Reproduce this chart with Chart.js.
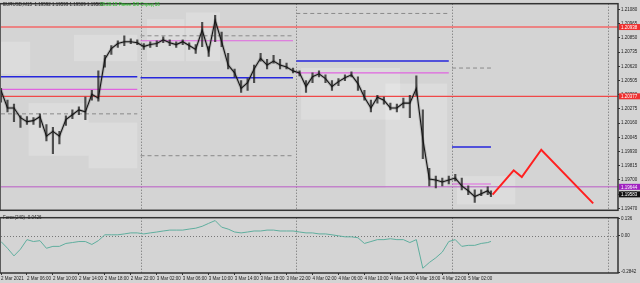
<!DOCTYPE html>
<html><head><meta charset="utf-8">
<script src="https://cdn.jsdelivr.net/npm/chart.js@4.4.0/dist/chart.umd.min.js"></script>
<style>
html,body{margin:0;padding:0;background:#d4d4d4;width:640px;height:283px;overflow:hidden}
canvas{position:absolute;left:0}
#price{top:0}
#ind{top:214px}
</style></head><body>
<canvas id="price" width="640" height="214"></canvas>
<canvas id="ind" width="640" height="69"></canvas>
<script>
// EURUSD M15, one point per hour (every 4 bars): close, high, low
const closes = [1.20425,1.20283,1.20283,1.20204,1.20172,1.20180,1.20212,1.20054,1.20093,1.20054,
  1.20188,1.20228,1.20267,1.20251,1.20393,1.20362,1.20677,1.20764,1.20804,1.20819,
  1.20819,1.20811,1.20780,1.20796,1.20804,1.20835,1.20811,1.20796,1.20819,1.20788,
  1.20756,1.20914,1.20740,1.20993,1.20819,1.20630,1.20567,1.20441,1.20488,1.20598,
  1.20685,1.20630,1.20662,1.20630,1.20614,1.20583,1.20567,1.20456,1.20535,1.20559,
  1.20520,1.20456,1.20496,1.20527,1.20551,1.20480,1.20370,1.20283,1.20370,1.20346,
  1.20283,1.20283,1.20322,1.20322,1.20441,1.20030,1.19707,1.19699,1.19683,1.19699,
  1.19715,1.19652,1.19612,1.19565,1.19588,1.19612,1.19583];
const highs = [1.20441,1.20346,1.20314,1.20220,1.20212,1.20204,1.20235,1.20149,1.20125,1.20093,
  1.20220,1.20267,1.20291,1.20370,1.20425,1.20583,1.20709,1.20788,1.20827,1.20867,
  1.20843,1.20835,1.20804,1.20819,1.20827,1.20859,1.20835,1.20819,1.20835,1.20811,
  1.20796,1.20977,1.20780,1.21032,1.20898,1.20725,1.20598,1.20504,1.20520,1.20630,
  1.20725,1.20677,1.20709,1.20677,1.20646,1.20606,1.20583,1.20504,1.20567,1.20583,
  1.20551,1.20504,1.20520,1.20551,1.20575,1.20535,1.20425,1.20346,1.20385,1.20370,
  1.20322,1.20314,1.20362,1.20385,1.20543,1.20267,1.19794,1.19731,1.19715,1.19731,
  1.19746,1.19715,1.19652,1.19620,1.19620,1.19644,1.19612];
const lows = [1.20330,1.20251,1.20172,1.20125,1.20149,1.20149,1.20125,1.20015,1.19912,1.19991,
  1.20141,1.20196,1.20228,1.20188,1.20346,1.20338,1.20614,1.20717,1.20772,1.20788,
  1.20804,1.20796,1.20756,1.20772,1.20780,1.20811,1.20788,1.20772,1.20796,1.20756,
  1.20725,1.20780,1.20701,1.20819,1.20780,1.20598,1.20535,1.20409,1.20425,1.20488,
  1.20662,1.20598,1.20646,1.20598,1.20598,1.20567,1.20543,1.20409,1.20488,1.20535,
  1.20488,1.20425,1.20464,1.20504,1.20535,1.20425,1.20346,1.20251,1.20322,1.20314,
  1.20267,1.20251,1.20283,1.20204,1.20385,1.19873,1.19652,1.19636,1.19652,1.19667,
  1.19691,1.19620,1.19581,1.19517,1.19573,1.19581,1.19565];
const force = [-0.044,-0.097,-0.157,-0.104,-0.029,-0.044,-0.037,-0.097,-0.082,-0.082,
  -0.059,-0.052,-0.044,-0.044,-0.067,-0.037,0.009,0.009,0.009,0.016,
  0.024,0.024,0.016,0.024,0.031,0.039,0.046,0.046,0.046,0.054,
  0.061,0.076,0.099,0.121,0.069,0.054,0.031,0.024,0.031,0.039,
  0.039,0.046,0.046,0.039,0.039,0.039,0.031,0.024,0.024,0.016,
  0.016,0.009,0.001,-0.007,-0.007,-0.014,-0.059,-0.044,-0.029,-0.029,
  -0.022,-0.029,-0.029,-0.052,-0.029,-0.254,-0.209,-0.172,-0.127,-0.044,
  -0.029,-0.082,-0.074,-0.074,-0.059,-0.052,-0.043];
const barsPerPoint = 4;
const lastBar = 302;

const forecastBars = [303, 316, 321, 333, 365];
const forecastPrices = [1.19581, 1.19778, 1.19723, 1.19944, 1.19510];

const sessionStart = [0, 86, 182, 278];
const sessionEnd = [84, 180, 276, 302];
const blueLevels = [1.20535, 1.20527, 1.20662, 1.19967];
const pinkLevels = [1.20433, 1.20827, 1.20567, 1.19667];
const dashLow = [1.20235, 1.19896, null, null];
const dashHigh = [null, 1.20867, 1.21048, 1.20606];

const redHigh = 1.20938, redLow = 1.20377, purpleLevel = 1.19644;
const tagValues = [1.20938, 1.20377, 1.19644, 1.19583];
const tagColors = ['#f03030', '#f03030', '#a020c0', '#111111'];

const zones = [[0,18,1.20559,1.20819],[17,54,1.19896,1.20322],[54,84,1.19794,1.20164],
  [45,84,1.20662,1.20875],[90,113,1.20662,1.21001],[114,135,1.20662,1.21056],
  [185,246,1.20188,1.20606],[237,275,1.19636,1.20480],[281,317,1.19502,1.19731]];
const daySeparators = [86, 182, 278, 374];

const priceTicks = [1.21080,1.20965,1.20850,1.20735,1.20620,1.20505,1.20390,1.20275,
  1.20160,1.20045,1.19930,1.19815,1.19700,1.19585,1.19470];
const forceTicks = [0.136, 0, -0.2842];
const forceTickText = ['0.136', '0.00', '-0.2842'];
const timeLabels = ['2 Mar 2021','2 Mar 06:00','2 Mar 10:00','2 Mar 14:00','2 Mar 18:00',
  '2 Mar 22:00','3 Mar 02:00','3 Mar 06:00','3 Mar 10:00','3 Mar 14:00','3 Mar 18:00',
  '3 Mar 22:00','4 Mar 02:00','4 Mar 06:00','4 Mar 10:00','4 Mar 14:00','4 Mar 18:00',
  '4 Mar 22:00','5 Mar 02:00'];
const barsPerLabel = 16;

const headerText = 'EURUSD,M15  1.19592 1.19593 1.19509 1.19583';
const infoText = '06:20:15 Ранее 5/8 Спред 16';
const forceText = 'Force(240) -0.0426';

const xMax = 380.3;
const FONT = '"Liberation Sans", Arial, sans-serif';

function barAt(i, n) { return i < n - 1 ? i * barsPerPoint : lastBar; }
function toPoints(vals) {
  return vals.map((v, i) => ({ x: barAt(i, vals.length), y: v }));
}
function segLine(levels) {
  const pts = [];
  levels.forEach((v, k) => {
    if (v == null) return;
    pts.push({ x: sessionStart[k], y: v }, { x: sessionEnd[k], y: v }, { x: sessionEnd[k] + 0.5, y: null });
  });
  return pts;
}
function flat(v) { return [{ x: 0, y: v }, { x: xMax, y: v }]; }

function dayLines(chart) {
  const { ctx, chartArea: a, scales: { x } } = chart;
  ctx.save();
  ctx.strokeStyle = '#6a6a6a';
  ctx.lineWidth = 1;
  ctx.setLineDash([1, 2]);
  daySeparators.forEach(b => {
    const px = Math.round(x.getPixelForValue(b)) + 0.5;
    ctx.beginPath(); ctx.moveTo(px, a.top); ctx.lineTo(px, a.bottom); ctx.stroke();
  });
  ctx.restore();
}
function frame(chart) {
  const { ctx, chartArea: a } = chart;
  ctx.save();
  ctx.strokeStyle = '#333';
  ctx.lineWidth = 1.5;
  ctx.strokeRect(a.left - 1, a.top, a.right - a.left + 1, a.bottom - a.top);
  ctx.restore();
}

const pricePlugin = {
  id: 'pricePlugin',
  beforeDatasetsDraw(chart) {
    const { ctx, scales: { x, y } } = chart;
    ctx.save();
    ctx.fillStyle = 'rgba(255,255,255,0.2)';
    zones.forEach(z => {
      const x0 = x.getPixelForValue(z[0]), x1 = x.getPixelForValue(z[1]);
      const y0 = y.getPixelForValue(z[3]), y1 = y.getPixelForValue(z[2]);
      ctx.fillRect(x0, y0, x1 - x0, y1 - y0);
    });
    ctx.restore();
    dayLines(chart);
  },
  afterDraw(chart) {
    const { ctx, chartArea: a, scales: { y } } = chart;
    frame(chart);
    ctx.save();
    ctx.font = '4.5px ' + FONT;
    ctx.textBaseline = 'middle';
    tagValues.forEach((v, i) => {
      const py = y.getPixelForValue(v);
      ctx.fillStyle = tagColors[i];
      ctx.fillRect(a.right + 1, py - 3, 640 - a.right - 1, 6);
      ctx.fillStyle = '#fff';
      ctx.fillText(v.toFixed(5), a.right + 3, py + 0.5);
    });
    ctx.fillStyle = '#222';
    ctx.fillText(headerText, 3, 5);
    ctx.fillStyle = '#22c022';
    ctx.fillText(infoText, 100, 5);
    ctx.restore();
  }
};

const indPlugin = {
  id: 'indPlugin',
  beforeDatasetsDraw(chart) {
    const { ctx, chartArea: a, scales: { y } } = chart;
    dayLines(chart);
    ctx.save();
    ctx.strokeStyle = '#777';
    ctx.setLineDash([1, 2]);
    const zy = Math.round(y.getPixelForValue(0)) + 0.5;
    ctx.beginPath(); ctx.moveTo(a.left, zy); ctx.lineTo(a.right, zy); ctx.stroke();
    ctx.restore();
  },
  afterDraw(chart) {
    const { ctx } = chart;
    frame(chart);
    ctx.save();
    ctx.font = '4.5px ' + FONT;
    ctx.fillStyle = '#222';
    ctx.textBaseline = 'middle';
    ctx.fillText(forceText, 3, 4);
    ctx.restore();
  }
};

const line = (data, color, width, extra) => Object.assign({
  type: 'line', data, borderColor: color, borderWidth: width, pointRadius: 0, tension: 0, spanGaps: false, fill: false
}, extra || {});

new Chart(document.getElementById('price'), {
  type: 'line',
  data: {
    datasets: [
      line(forecastBars.map((b, i) => ({ x: b, y: forecastPrices[i] })), '#ff2020', 2, { order: 0 }),
      line(toPoints(closes), '#151515', 1.1, { order: 1 }),
      {
        type: 'bar', order: 2,
        data: highs.map((h, i) => ({ x: barAt(i, highs.length), y: [lows[i], h] })),
        backgroundColor: 'rgba(30,30,30,0.75)', borderWidth: 0, barThickness: 1.5
      },
      line(toPoints(closes), 'rgba(90,90,90,0.3)', 3, { order: 3 }),
      line(segLine(blueLevels), '#2626dc', 1.5, { order: 4 }),
      line(segLine(pinkLevels), '#e064e0', 1.2, { order: 4 }),
      line(segLine(dashLow), '#8a8a8a', 1, { order: 5, borderDash: [4, 3] }),
      line(segLine(dashHigh), '#8a8a8a', 1, { order: 5, borderDash: [4, 3] }),
      line(flat(redHigh), 'rgba(240,110,110,0.8)', 2, { order: 6 }),
      line(flat(redLow), '#f04848', 1.2, { order: 6 }),
      line(flat(purpleLevel), 'rgba(190,110,200,0.8)', 1.5, { order: 6 })
    ]
  },
  options: {
    responsive: false,
    animation: false,
    events: [],
    layout: { padding: { top: 1, bottom: 1, left: 1, right: 0 } },
    plugins: { legend: { display: false }, tooltip: { enabled: false } },
    scales: {
      x: { type: 'linear', min: 0, max: xMax, display: false, offset: false },
      y: {
        type: 'linear', position: 'right', min: 1.19454, max: 1.21127,
        afterFit(s) { s.width = 22; },
        afterBuildTicks(s) { s.ticks = priceTicks.map(v => ({ value: v })); },
        grid: { drawOnChartArea: false, tickLength: 2, color: '#333' },
        border: { display: false },
        ticks: { font: { size: 4.5, family: FONT }, color: '#222', padding: 1,
          callback: v => v.toFixed(5) }
      }
    }
  },
  plugins: [pricePlugin]
});

new Chart(document.getElementById('ind'), {
  type: 'line',
  data: {
    datasets: [line(toPoints(force), '#5fae9e', 1)]
  },
  options: {
    responsive: false,
    animation: false,
    events: [],
    layout: { padding: { top: 1, bottom: 0, left: 1, right: 0 } },
    plugins: { legend: { display: false }, tooltip: { enabled: false } },
    scales: {
      x: {
        type: 'linear', min: 0, max: xMax,
        afterFit(s) { s.height = 10; },
        afterBuildTicks(s) { s.ticks = timeLabels.map((l, i) => ({ value: i * barsPerLabel })); },
        grid: { drawOnChartArea: false, tickLength: 2, color: '#333' },
        border: { display: false },
        ticks: { font: { size: 4.5, family: FONT }, color: '#222', padding: 1, align: 'start',
          maxRotation: 0, autoSkip: false, callback: (v, i) => timeLabels[i] }
      },
      y: {
        type: 'linear', position: 'right', min: -0.2915, max: 0.1435,
        afterFit(s) { s.width = 22; },
        afterBuildTicks(s) { s.ticks = forceTicks.map(v => ({ value: v })); },
        grid: { drawOnChartArea: false, tickLength: 2, color: '#333' },
        border: { display: false },
        ticks: { font: { size: 4.5, family: FONT }, color: '#222', padding: 1,
          callback: (v, i) => forceTickText[i] }
      }
    }
  },
  plugins: [indPlugin]
});
</script>
</body></html>
